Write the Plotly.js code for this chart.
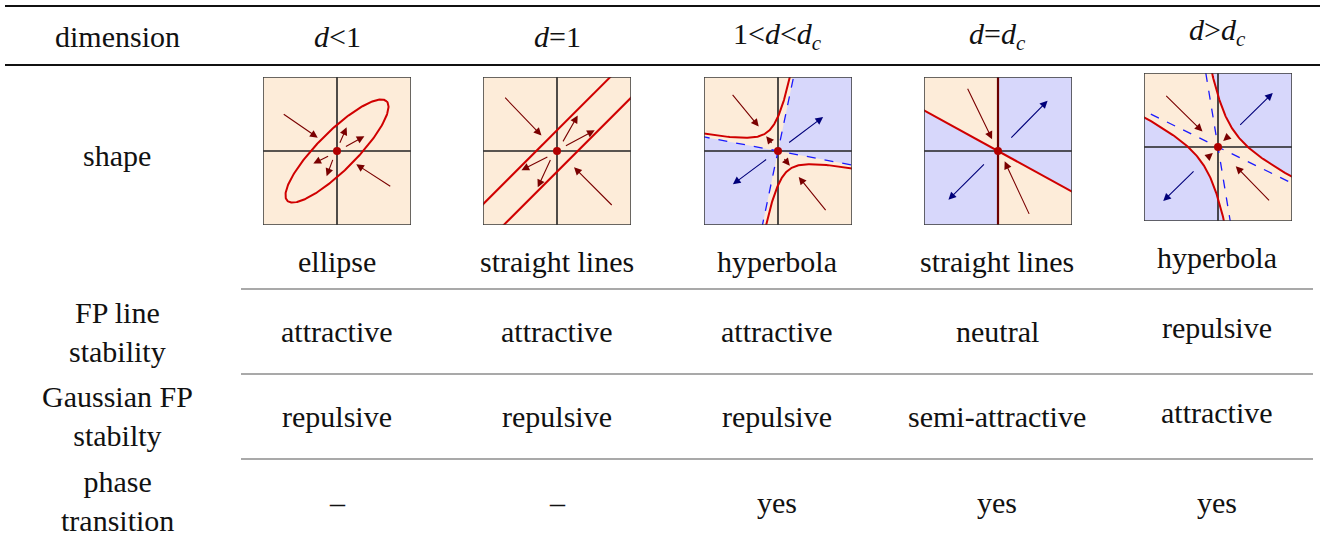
<!DOCTYPE html>
<html>
<head>
<meta charset="utf-8">
<script src="https://cdn.plot.ly/plotly-3.0.1.min.js"></script>
</head>
<body style="margin:0;background:#fff">
<div id="chart" style="width:1325px;height:539px"></div>
<script>
// ---- table text ----
const rowLabels = ['dimension', 'shape', 'FP line<br>stability', 'Gaussian FP<br>stabilty', 'phase<br>transition'];
const dimensionLabels = ['<i>d</i>&lt;1', '<i>d</i>=1', '1&lt;<i>d</i>&lt;<i>d</i><sub><i>c</i></sub>', '<i>d</i>=<i>d</i><sub><i>c</i></sub>', '<i>d</i>&gt;<i>d</i><sub><i>c</i></sub>'];
const shapeNames = ['ellipse', 'straight lines', 'hyperbola', 'straight lines', 'hyperbola'];
const fpLineStability = ['attractive', 'attractive', 'attractive', 'neutral', 'repulsive'];
const gaussianStability = ['repulsive', 'repulsive', 'repulsive', 'semi-attractive', 'attractive'];
const phaseTransition = ['–', '–', 'yes', 'yes', 'yes'];

// ---- panel geometry (box spans -1..1) ----
const ellipseAxes = [0.95, 0.26];      // semi-major, semi-minor
const ellipseTilt = 45;                // degrees
const stripOffsets = [0.28, -0.28];    // y = x + c
const asym3 = [-0.19, 0.21];           // y = s*x  and  x = t*y
const hypK3 = -0.045;
const criticalSlope = -0.55;
const asym5 = [-0.49, -0.165];
const hypK5 = 0.08;

// arrows: [tailX, tailY, headX, headY]
const redArrows = [
    [[-0.74, 0.51, -0.26, 0.18], [0.74, -0.49, 0.26, -0.18], [0.03, 0.09, 0.13, 0.32], [0.10, 0.05, 0.37, 0.20], [-0.10, -0.06, -0.32, -0.17], [-0.05, -0.10, -0.14, -0.34]],
    [[-0.72, 0.74, -0.21, 0.21], [0.76, -0.75, 0.23, -0.22], [0.07, 0.11, 0.28, 0.48], [0.10, 0.06, 0.51, 0.28], [-0.11, -0.07, -0.48, -0.26], [-0.08, -0.10, -0.26, -0.49]],
    [[-0.63, 0.78, -0.26, 0.33], [0.66, -0.82, 0.28, -0.35], [-0.07, 0.09, -0.16, 0.20], [0.07, -0.09, 0.16, -0.20]],
    [[-0.42, 0.86, -0.08, 0.16], [0.43, -0.87, 0.09, -0.14]],
    [[-0.72, 0.71, -0.21, 0.21], [0.71, -0.74, 0.24, -0.26], [0.16, 0.16, 0.07, 0.08], [-0.15, -0.15, -0.07, -0.08]]
];
const blueArrows = [
    [],
    [],
    [[0.13, 0.10, 0.61, 0.46], [-0.14, -0.10, -0.61, -0.45]],
    [[0.16, 0.16, 0.67, 0.68], [-0.17, -0.16, -0.67, -0.66]],
    [[0.28, 0.28, 0.74, 0.73], [-0.31, -0.31, -0.74, -0.73]]
];

// ---- layout helpers ----
const W = 1325, H = 539;
const px = x => x / W;
const py = y => 1 - y / H;
const colX = [117, 337, 557, 777, 997, 1217];
const boxLeft = [263, 483, 704, 924, 1144];
const boxTop = [77, 77, 77, 77, 73];
const boxSize = 148;

const PEACH = '#fdecd9', LAVENDER = '#d7d7fb';
const RED = '#d00000', DARKRED = '#7a0000', NAVY = '#00007a', DASHBLUE = '#1a1aff';

function ellipse(a, b, tiltDeg, n) {
    const th = tiltDeg * Math.PI / 180, xs = [], ys = [];
    for (let i = 0; i <= n; i++) {
        const phi = 2 * Math.PI * i / n;
        const u = a * Math.cos(phi), v = b * Math.sin(phi);
        xs.push(u * Math.cos(th) - v * Math.sin(th));
        ys.push(u * Math.sin(th) + v * Math.cos(th));
    }
    return {x: xs, y: ys};
}

function hyperbolaBranch(s, t, c, sign, n) {
    // p*q = c with p = y - s*x, q = x - t*y
    const xs = [], ys = [];
    for (let i = 0; i <= n; i++) {
        const p = sign * Math.pow(10, -2 + 2.5 * i / n);
        const q = c / p;
        const x = (q + t * p) / (1 - t * s);
        xs.push(x);
        ys.push(p + s * x);
    }
    return {x: xs, y: ys};
}

let traces = [];
let shapes = [];
let annotations = [];
let layout = {
    width: W, height: H,
    margin: {l: 0, r: 0, t: 0, b: 0},
    paper_bgcolor: '#fff', plot_bgcolor: 'rgba(0,0,0,0)',
    showlegend: false
};

for (let i = 0; i < 5; i++) {
    const n = i === 0 ? '' : String(i + 1);
    const xa = 'x' + n, ya = 'y' + n;
    const ax = {range: [-1, 1], visible: false, fixedrange: true};
    layout['xaxis' + n] = Object.assign({}, ax, {domain: [px(boxLeft[i]), px(boxLeft[i] + boxSize)], anchor: ya});
    layout['yaxis' + n] = Object.assign({}, ax, {domain: [py(boxTop[i] + boxSize), py(boxTop[i])], anchor: xa});

    const bg = i < 2 ? PEACH : LAVENDER;
    shapes.push({type: 'rect', xref: xa, yref: ya, x0: -1, x1: 1, y0: -1, y1: 1, fillcolor: bg, line: {width: 0}, layer: 'below'});
    shapes.push({type: 'rect', xref: xa, yref: ya, x0: -1, x1: 1, y0: -1, y1: 1, fillcolor: 'rgba(0,0,0,0)', line: {color: '#3a3a3a', width: 1.5}, layer: 'above'});

    const line = (x, y, color, width, dash) => traces.push({x: x, y: y, xaxis: xa, yaxis: ya, mode: 'lines', line: {color: color, width: width, dash: dash || 'solid'}, hoverinfo: 'skip'});
    const patch = (x, y) => traces.push({x: x, y: y, xaxis: xa, yaxis: ya, mode: 'lines', fill: 'toself', fillcolor: PEACH, line: {width: 0}, hoverinfo: 'skip'});

    // peach regions
    if (i === 2) {
        const [s, t] = asym3;
        patch([0, -3, -3, 3 * t, 0], [0, -3 * s, 3, 3, 0]);
        patch([0, 3, 3, -3 * t, 0], [0, 3 * s, -3, -3, 0]);
    } else if (i === 3) {
        patch([0, -3, -3, 0, 0], [0, -3 * criticalSlope, 3, 3, 0]);
        patch([0, 3, 3, 0, 0], [0, 3 * criticalSlope, -3, -3, 0]);
    } else if (i === 4) {
        const [s, t] = asym5;
        const A = hyperbolaBranch(s, t, hypK5, -1, 200);
        const B = hyperbolaBranch(s, t, hypK5, 1, 200);
        patch(A.x.concat([6], B.x, [-6]), A.y.concat([-6], B.y, [6]));
    }

    // axes cross
    line([-1, 1], [0, 0], '#222', 1.6);
    line([0, 0], [-1, 1], i === 3 ? '#6b0000' : '#222', i === 3 ? 2.2 : 1.6);

    // curves
    if (i === 0) {
        const e = ellipse(ellipseAxes[0], ellipseAxes[1], ellipseTilt, 240);
        line(e.x, e.y, RED, 2);
    } else if (i === 1) {
        stripOffsets.forEach(c => line([-2, 2], [-2 + c, 2 + c], RED, 2));
    } else if (i === 2) {
        const [s, t] = asym3;
        line([-2, 2], [-2 * s, 2 * s], DASHBLUE, 1.3, 'dash');
        line([-2 * t, 2 * t], [-2, 2], DASHBLUE, 1.3, 'dash');
        [1, -1].forEach(sg => {
            const h = hyperbolaBranch(s, t, hypK3, sg, 200);
            line(h.x, h.y, RED, 2);
        });
    } else if (i === 3) {
        line([-2, 2], [-2 * criticalSlope, 2 * criticalSlope], RED, 2);
    } else {
        const [s, t] = asym5;
        line([-2, 2], [-2 * s, 2 * s], DASHBLUE, 1.3, 'dash');
        line([-2 * t, 2 * t], [-2, 2], DASHBLUE, 1.3, 'dash');
        [1, -1].forEach(sg => {
            const h = hyperbolaBranch(s, t, hypK5, sg, 200);
            line(h.x, h.y, RED, 2);
        });
    }

    // fixed point
    traces.push({x: [0], y: [0], xaxis: xa, yaxis: ya, mode: 'markers', marker: {size: 8, color: '#b00000'}, hoverinfo: 'skip', cliponaxis: false});

    // arrows
    const arrow = (a, color) => annotations.push({
        xref: xa, yref: ya, axref: xa, ayref: ya,
        x: a[2], y: a[3], ax: a[0], ay: a[1],
        text: '', showarrow: true, arrowhead: 2, arrowsize: 1.4, arrowwidth: 1.1, arrowcolor: color, standoff: 0
    });
    redArrows[i].forEach(a => arrow(a, DARKRED));
    blueArrows[i].forEach(a => arrow(a, NAVY));
}

// ---- table rules ----
const rule = (x0, x1, y, w, c) => shapes.push({type: 'line', xref: 'paper', yref: 'paper', x0: px(x0), x1: px(x1), y0: py(y), y1: py(y), line: {color: c, width: w}});
rule(5, 1320, 6, 2, '#111');
rule(5, 1320, 65, 2, '#111');
[289, 374, 459].forEach(y => rule(241, 1313, y, 1.2, '#555'));

// ---- table text ----
const text = (x, y, t) => annotations.push({xref: 'paper', yref: 'paper', x: px(x), y: py(y), text: t, showarrow: false, xanchor: 'center', yanchor: 'middle', font: {family: 'Liberation Serif', size: 30, color: '#111'}});
const rowY = [36, 156, 332, 416, 501];
rowLabels.forEach((t, r) => text(colX[0], rowY[r], t));
for (let c = 0; c < 5; c++) {
    const lift = c === 4 ? 4 : 0;
    text(colX[c + 1], 36 - lift, dimensionLabels[c]);
    text(colX[c + 1], 261 - lift, shapeNames[c]);
    text(colX[c + 1], 331 - lift, fpLineStability[c]);
    text(colX[c + 1], 416 - lift, gaussianStability[c]);
    text(colX[c + 1], 502, phaseTransition[c]);
}

layout.shapes = shapes;
layout.annotations = annotations;

Plotly.newPlot('chart', traces, layout, {displayModeBar: false});
</script>
</body>
</html>
